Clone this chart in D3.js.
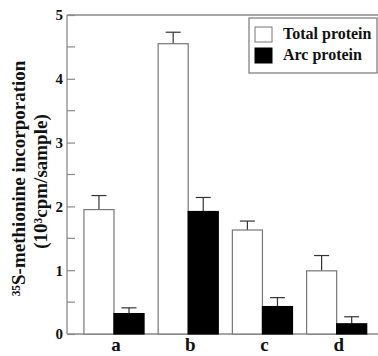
<!DOCTYPE html>
<html>
<head>
<meta charset="utf-8">
<script src="https://cdn.jsdelivr.net/npm/d3@7"></script>
<style>
  body { margin: 0; background: #fff; }
  svg { display: block; font-family: "Liberation Serif", "DejaVu Serif", serif; font-weight: bold; }
</style>
</head>
<body>
<svg id="chart" width="378" height="356"></svg>
<script>
// data
const categories = ['a', 'b', 'c', 'd'];
const seriesNames = ['Total protein', 'Arc protein'];
const totalProtein = [1.95, 4.55, 1.63, 0.99];
const totalErr = [0.22, 0.18, 0.14, 0.24];
const arcProtein = [0.32, 1.92, 0.43, 0.16];
const arcErr = [0.09, 0.22, 0.14, 0.11];
const yTicks = [0, 1, 2, 3, 4, 5];
const yMinorTicks = [0.5, 1.5, 2.5, 3.5, 4.5];
const yTitle = ['³⁵S-methionine incorporation', '(10³cpm/sample)'];

const svg = d3.select('#chart');
const margins = { left: 67, top: 15, right: 0, bottom: 22 };
const width = 378, height = 356;
const innerWidth = width - margins.left - margins.right;
const innerHeight = height - margins.top - margins.bottom;

const fills = ['#fff', '#000'];

const x = d3.scaleBand()
  .domain(categories)
  .range([0, innerWidth])
  .paddingInner(0.19)
  .paddingOuter(0.19)
  .align(0.6);

const xSub = d3.scaleBand()
  .domain(seriesNames)
  .range([0, x.bandwidth()]);

const y = d3.scaleLinear()
  .domain([0, 5])
  .range([innerHeight, 0]);

const g = svg.append('g')
  .attr('transform', `translate(${margins.left}, ${margins.top})`);

// frame lines (left, top, bottom)
const axisColor = '#8a8a8a';
g.append('line').attr('x1', 0).attr('x2', 0).attr('y1', 0).attr('y2', innerHeight)
  .attr('stroke', axisColor).attr('stroke-width', 1.3);
g.append('line').attr('x1', 0).attr('x2', innerWidth).attr('y1', 0).attr('y2', 0)
  .attr('stroke', axisColor).attr('stroke-width', 1.3);
g.append('line').attr('x1', 0).attr('x2', innerWidth).attr('y1', innerHeight).attr('y2', innerHeight)
  .attr('stroke', axisColor).attr('stroke-width', 1.3);

// y axis with inward ticks
const yAxis = d3.axisLeft(y)
  .tickValues(yTicks)
  .tickSizeInner(-8)
  .tickSizeOuter(0)
  .tickFormat(d3.format('d'));

const yAxisG = g.append('g').call(yAxis);
yAxisG.select('.domain').remove();
yAxisG.selectAll('.tick line').attr('stroke', axisColor).attr('stroke-width', 1.2);
yAxisG.selectAll('.tick text')
  .attr('x', -4)
  .style('font-size', '15px')
  .style('font-family', '"Liberation Serif", serif')
  .style('font-weight', 'bold')
  .attr('fill', '#111');

g.append('g')
  .selectAll('line')
  .data(yMinorTicks)
  .enter()
  .append('line')
  .attr('x1', 0).attr('x2', 8)
  .attr('y1', (d) => y(d)).attr('y2', (d) => y(d))
  .attr('stroke', axisColor).attr('stroke-width', 1.2);

// bars
const rows = categories.map((c, i) => ({
  cat: c,
  values: [
    { name: seriesNames[0], v: totalProtein[i], e: totalErr[i], k: 0 },
    { name: seriesNames[1], v: arcProtein[i], e: arcErr[i], k: 1 }
  ]
}));

const groups = g.selectAll('g.group')
  .data(rows)
  .enter()
  .append('g')
  .attr('class', 'group')
  .attr('transform', (d) => `translate(${x(d.cat)}, 0)`);

// error bars (upward only)
groups.selectAll('g.err')
  .data((d) => d.values)
  .enter()
  .append('g')
  .attr('class', 'err')
  .each(function (d) {
    const cx = xSub(d.name) + xSub.bandwidth() / 2;
    const sel = d3.select(this);
    sel.append('line')
      .attr('x1', cx).attr('x2', cx)
      .attr('y1', y(d.v)).attr('y2', y(d.v + d.e))
      .attr('stroke', '#333').attr('stroke-width', 1.2);
    sel.append('line')
      .attr('x1', cx - 7.5).attr('x2', cx + 7.5)
      .attr('y1', y(d.v + d.e)).attr('y2', y(d.v + d.e))
      .attr('stroke', '#333').attr('stroke-width', 1.2);
  });

groups.selectAll('rect')
  .data((d) => d.values)
  .enter()
  .append('rect')
  .attr('x', (d) => xSub(d.name))
  .attr('y', (d) => y(d.v))
  .attr('width', xSub.bandwidth())
  .attr('height', (d) => innerHeight - y(d.v))
  .attr('fill', (d) => fills[d.k])
  .attr('stroke', (d) => d.k === 0 ? '#777' : '#000')
  .attr('stroke-width', 1.2);

// category labels
const xAxis = d3.axisBottom(x).tickSize(0).tickPadding(0);
const xAxisG = g.append('g')
  .attr('transform', `translate(2, ${innerHeight})`)
  .call(xAxis);
xAxisG.select('.domain').remove();
xAxisG.selectAll('.tick text')
  .attr('dy', null)
  .attr('y', 17)
  .style('font-size', '19px')
  .style('font-family', '"Liberation Serif", serif')
  .style('font-weight', 'bold')
  .attr('fill', '#111');

// y title, two rotated lines
svg.selectAll('text.ytitle')
  .data(yTitle)
  .enter()
  .append('text')
  .attr('class', 'ytitle')
  .attr('transform', (d, i) => `translate(${25 + i * 22}, ${margins.top + innerHeight / 2 + 4 + i * 3}) rotate(-90)`)
  .attr('text-anchor', 'middle')
  .style('font-size', '19px')
  .attr('fill', '#111')
  .text((d) => d);

// legend
const legend = svg.append('g').attr('transform', 'translate(249, 18)');
legend.append('rect')
  .attr('x', 0).attr('y', 0).attr('width', 128).attr('height', 55)
  .attr('fill', '#fff').attr('stroke', '#777').attr('stroke-width', 1.2);

const items = legend.selectAll('g.item')
  .data(seriesNames)
  .enter()
  .append('g')
  .attr('class', 'item')
  .attr('transform', (d, i) => `translate(6, ${9 + i * 21})`);

items.append('rect')
  .attr('width', 17).attr('height', 15)
  .attr('fill', (d, i) => fills[i])
  .attr('stroke', (d, i) => i === 0 ? '#777' : '#000')
  .attr('stroke-width', 1);

items.append('text')
  .attr('x', 28).attr('y', 12)
  .style('font-size', '16px')
  .attr('fill', '#111')
  .text((d) => d);
</script>
</body>
</html>
